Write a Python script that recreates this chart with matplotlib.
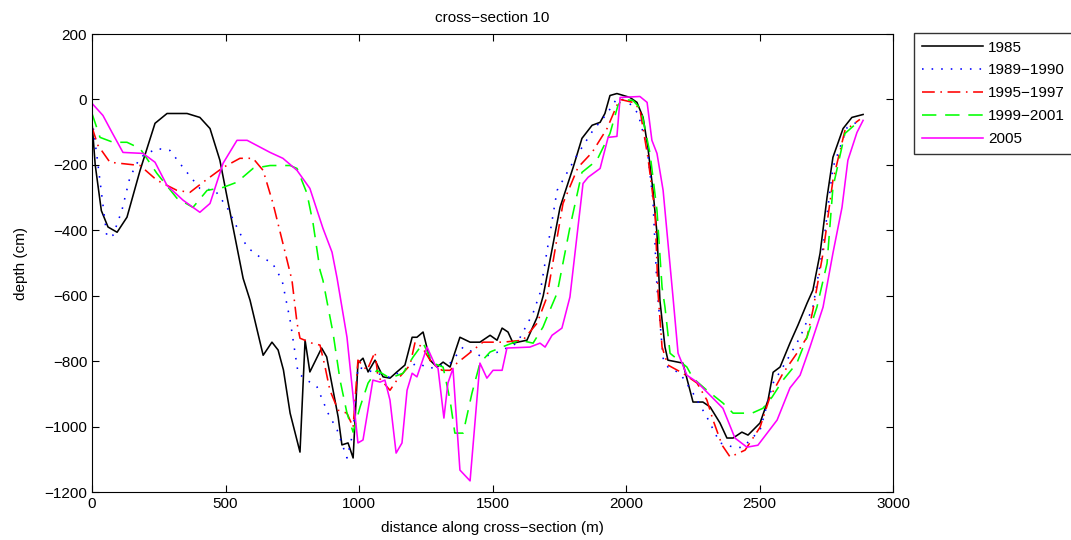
"""
Cross-section 10 bed profiles for five survey periods (Matlab-style line plot).
Saves out.png at 1071x540.
"""
import matplotlib
matplotlib.use("Agg")
import matplotlib.pyplot as plt

plt.rcParams["font.family"] = ["Liberation Sans", "DejaVu Sans"]

# ── Data ─────────────────────────────────────────────────────────────────────
x_1985 = [0, 12, 35, 60, 94, 131, 180, 236, 281, 356, 404, 442, 479, 506, 543,
          566, 592, 641, 674, 697, 717, 742, 779, 798, 816, 860, 879, 922, 936,
          959, 978, 996, 1015, 1034, 1060, 1090, 1116, 1142, 1172, 1199, 1217,
          1240, 1266, 1292, 1315, 1341, 1378, 1416, 1453, 1491, 1517, 1536, 1558,
          1577, 1629, 1667, 1690, 1753, 1802, 1835, 1873, 1903, 1921, 1940, 1966,
          2015, 2041, 2064, 2082, 2101, 2116, 2127, 2146, 2157, 2213, 2251, 2288,
          2315, 2352, 2378, 2401, 2434, 2457, 2502, 2532, 2551, 2577, 2614, 2644,
          2678, 2700, 2727, 2753, 2775, 2813, 2846, 2888]
y_1985 = [-70, -200, -340, -390, -406, -360, -217, -73, -43, -43, -55, -89, -186,
          -299, -452, -547, -614, -782, -742, -766, -827, -959, -1078, -736, -833,
          -760, -787, -971, -1056, -1050, -1096, -806, -791, -833, -797, -848,
          -852, -833, -812, -727, -727, -711, -797, -818, -803, -818, -727, -742,
          -742, -721, -736, -699, -711, -745, -736, -666, -600, -330, -208, -119,
          -79, -70, -43, 12, 18, 6, -9, -55, -147, -278, -409, -614, -757, -797,
          -806, -925, -925, -940, -989, -1035, -1035, -1017, -1026, -989, -919,
          -834, -818, -745, -690, -623, -583, -470, -299, -177, -89, -55, -46]

x_1989 = [0, 19, 56, 79, 112, 142, 180, 243, 292, 341, 404, 461, 506, 543, 581,
          629, 674, 712, 742, 772, 805, 843, 884, 918, 955, 978, 996, 1040, 1116,
          1217, 1266, 1341, 1390, 1464, 1521, 1592, 1652, 1678, 1742, 1816, 1876,
          1929, 1966, 2004, 2045, 2079, 2101, 2116, 2139, 2157, 2202, 2251, 2303,
          2352, 2410, 2438, 2502, 2551, 2603, 2652, 2700, 2738, 2775, 2828, 2884]
y_1989 = [-60, -177, -421, -415, -339, -238, -177, -150, -156, -208, -272, -278,
          -330, -391, -452, -482, -498, -553, -675, -837, -858, -879, -959, -1010,
          -1096, -1017, -818, -830, -850, -806, -822, -806, -757, -788, -772,
          -745, -653, -592, -278, -171, -95, -43, 3, -3, -43, -147, -308, -574,
          -791, -818, -837, -898, -971, -1050, -1065, -1063, -1011, -867, -797,
          -727, -635, -452, -208, -86, -61]

x_1995 = [0, 22, 67, 180, 243, 318, 367, 416, 491, 554, 603, 641, 678, 715, 749,
          768, 779, 824, 854, 873, 891, 922, 955, 978, 996, 1030, 1060, 1071, 1090,
          1116, 1142, 1191, 1210, 1236, 1273, 1311, 1341, 1367, 1404, 1464, 1539,
          1614, 1667, 1704, 1764, 1820, 1873, 1929, 1966, 1978, 2026, 2052, 2082,
          2109, 2120, 2135, 2157, 2213, 2266, 2303, 2326, 2360, 2390, 2446, 2502,
          2539, 2588, 2640, 2678, 2700, 2738, 2775, 2820, 2876]
y_1995 = [-85, -140, -192, -202, -247, -278, -284, -253, -208, -180, -180, -217,
          -318, -440, -553, -684, -730, -745, -751, -818, -889, -950, -959, -1002,
          -797, -828, -772, -848, -864, -889, -858, -812, -742, -757, -806, -828,
          -828, -806, -782, -742, -742, -736, -684, -604, -318, -208, -162, -89,
          -18, 0, -9, -30, -177, -348, -592, -757, -812, -837, -867, -919, -980,
          -1057, -1093, -1072, -1002, -910, -837, -776, -727, -644, -470, -247,
          -95, -61]

x_1999 = [0, 30, 79, 131, 180, 243, 318, 378, 431, 491, 543, 603, 667, 742, 768,
          805, 828, 854, 865, 903, 929, 955, 978, 1004, 1034, 1067, 1116, 1165,
          1202, 1240, 1277, 1315, 1341, 1359, 1390, 1423, 1453, 1491, 1554, 1603,
          1652, 1689, 1715, 1742, 1790, 1835, 1891, 1940, 1970, 1985, 2026, 2056,
          2090, 2116, 2135, 2146, 2165, 2228, 2251, 2303, 2363, 2401, 2472, 2513,
          2547, 2588, 2640, 2678, 2715, 2753, 2775, 2820, 2876]
y_1999 = [-43, -116, -131, -131, -150, -226, -302, -330, -278, -269, -253, -211,
          -202, -202, -211, -287, -379, -522, -553, -715, -858, -959, -1017, -940,
          -867, -828, -852, -837, -788, -745, -806, -818, -919, -1020, -1020,
          -898, -806, -772, -751, -736, -745, -696, -644, -592, -391, -223, -186,
          -104, -18, 0, -3, -30, -165, -339, -574, -635, -776, -818, -852, -889,
          -928, -959, -959, -944, -910, -858, -806, -727, -635, -501, -269, -104,
          -64]

x_2005 = [0, 41, 75, 116, 191, 236, 281, 341, 404, 442, 491, 543, 581, 667, 715,
          768, 816, 865, 899, 918, 955, 996, 1015, 1052, 1079, 1097, 1116, 1139,
          1161, 1180, 1199, 1217, 1255, 1285, 1296, 1318, 1333, 1352, 1378, 1416,
          1453, 1479, 1502, 1536, 1554, 1640, 1678, 1697, 1723, 1760, 1790, 1839,
          1858, 1903, 1933, 1966, 1978, 2052, 2079, 2097, 2116, 2139, 2176, 2195,
          2228, 2266, 2363, 2408, 2453, 2494, 2566, 2614, 2652, 2689, 2738, 2775,
          2809, 2831, 2865, 2888]
y_2005 = [-12, -49, -101, -162, -165, -192, -263, -308, -345, -318, -195, -125,
          -125, -162, -180, -217, -272, -394, -467, -547, -727, -1050, -1041,
          -858, -864, -858, -919, -1081, -1050, -889, -837, -848, -757, -812,
          -822, -974, -867, -822, -1133, -1166, -806, -852, -828, -828, -760,
          -757, -745, -757, -721, -699, -604, -257, -238, -211, -116, -113, 6, 9,
          -9, -125, -165, -278, -604, -776, -843, -864, -944, -1035, -1063, -1057,
          -980, -882, -843, -757, -635, -470, -330, -186, -101, -64]

series = [
    ("1985", x_1985, y_1985, "#000000", "-"),
    ("1989\u22121990", x_1989, y_1989, "#0000ff", (0, (1, 5))),
    ("1995\u22121997", x_1995, y_1995, "#ff0000", (0, (8, 3.5, 1, 3.5))),
    ("1999\u22122001", x_1999, y_1999, "#00ff00", (0, (9, 5.5))),
    ("2005", x_2005, y_2005, "#ff00ff", "-"),
]

xticks = [0, 500, 1000, 1500, 2000, 2500, 3000]
yticks = [-1200, -1000, -800, -600, -400, -200, 0, 200]

# ── Figure ───────────────────────────────────────────────────────────────────
fig = plt.figure(figsize=(10.71, 5.40), dpi=100)
ax = fig.add_axes([92 / 1071, 1 - 492 / 540, (893 - 92) / 1071, (492 - 34) / 540])

handles = []
for label, xs, ys, col, ls in series:
    (h,) = ax.plot(xs, ys, color=col, linestyle=ls, lw=1.15, label=label)
    handles.append(h)

ax.set_xlim(0, 3000)
ax.set_ylim(-1200, 200)
ax.set_xticks(xticks)
ax.set_yticks(yticks)
ax.tick_params(direction="in", top=True, right=True, labelsize=11, length=5)
ax.set_xlabel("distance along cross\u2212section (m)", fontsize=11, labelpad=7)
ax.set_ylabel("depth (cm)", fontsize=11, labelpad=12)
ax.set_title("cross\u2212section 10", fontsize=11, pad=9)

leg = fig.legend(handles=handles, loc="upper left",
                 bbox_to_anchor=(914 / 1071, 1 - 33 / 540),
                 fontsize=11, frameon=True, fancybox=False,
                 edgecolor="k", handlelength=4.0, borderaxespad=0,
                 labelspacing=0.58, handletextpad=0.35, borderpad=0.5)
leg.get_frame().set_linewidth(1.0)

fig.savefig("out.png", dpi=100, facecolor="white")
